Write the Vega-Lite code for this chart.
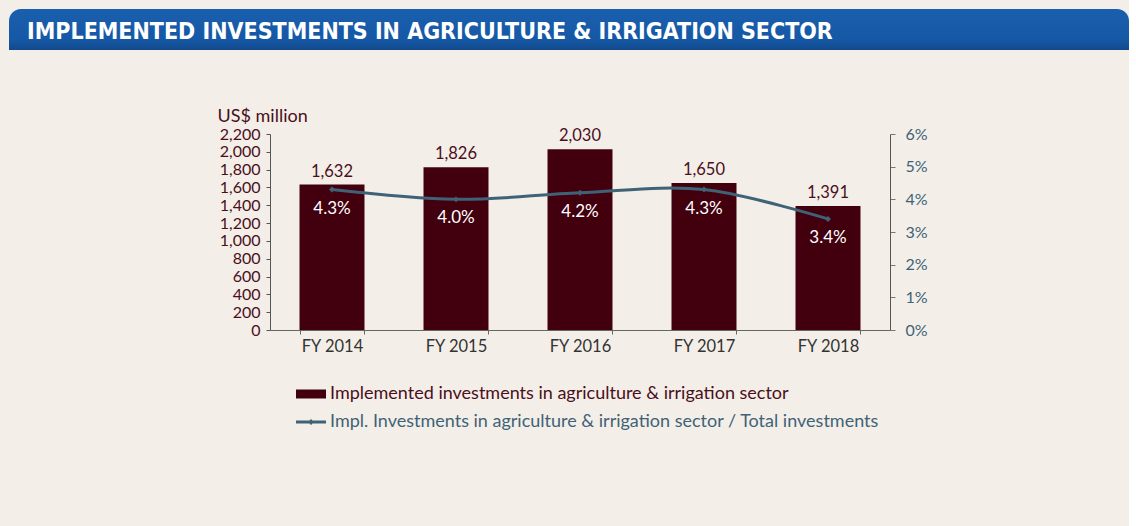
{
  "$schema": "https://vega.github.io/schema/vega-lite/v6.json",
  "background": "#f3efe8",
  "padding": {"left": 9, "top": 9, "right": 0, "bottom": 96},
  "config": {"view": {"stroke": null}, "font": "Lato"},
  "spacing": 57,
  "bounds": "full",
  "vconcat": [
    {
      "width": 620,
      "height": 41,
      "layer": [
        {
          "data": {"values": [{"a": 0, "b": 1}]},
          "mark": {
            "type": "rect",
            "cornerRadiusTopLeft": 12,
            "cornerRadiusTopRight": 12,
            "color": {
              "gradient": "linear",
              "x1": 0, "y1": 0, "x2": 0, "y2": 1,
              "stops": [
                {"offset": 0, "color": "#1a5fae"},
                {"offset": 0.75, "color": "#1558a5"},
                {"offset": 1, "color": "#124a8c"}
              ]
            }
          },
          "encoding": {
            "x": {"field": "a", "type": "quantitative", "scale": {"domain": [0, 1], "range": [-261, 859]}, "axis": null},
            "x2": {"field": "b"},
            "y": {"field": "a", "type": "quantitative", "scale": {"domain": [0, 1]}, "axis": null},
            "y2": {"field": "b"}
          }
        },
        {
          "data": {"values": [{"a": 0, "t": "IMPLEMENTED INVESTMENTS IN AGRICULTURE & IRRIGATION SECTOR"}]},
          "mark": {
            "type": "text",
            "align": "left",
            "baseline": "alphabetic",
            "dx": 18,
            "dy": -11,
            "color": "#ffffff",
            "font": "DejaVu Sans Condensed",
            "fontSize": 23,
            "fontWeight": "bold"
          },
          "encoding": {
            "x": {"field": "a", "type": "quantitative"},
            "y": {"field": "a", "type": "quantitative"},
            "text": {"field": "t"}
          }
        }
      ]
    },
    {
      "width": 620,
      "height": 196,
      "data": {
        "values": [
          {"year": "FY 2014", "amount": 1632, "pct": 0.043},
          {"year": "FY 2015", "amount": 1826, "pct": 0.040},
          {"year": "FY 2016", "amount": 2030, "pct": 0.042},
          {"year": "FY 2017", "amount": 1650, "pct": 0.043},
          {"year": "FY 2018", "amount": 1391, "pct": 0.034}
        ]
      },
      "encoding": {
        "x": {
          "field": "year",
          "type": "nominal",
          "sort": null,
          "scale": {"paddingInner": 0.476, "paddingOuter": 0.238},
          "axis": {
            "title": null,
            "labelAngle": 0,
            "labelFont": "Lato",
            "labelFontSize": 16.5,
            "labelColor": "#333333",
            "labelPadding": 4,
            "tickBand": "extent",
            "tickSize": 4,
            "tickColor": "#666666",
            "domainColor": "#666666",
            "grid": false
          }
        }
      },
      "layer": [
        {
          "encoding": {
            "y": {
              "field": "amount",
              "type": "quantitative",
              "scale": {"domain": [0, 2200], "nice": false},
              "axis": {
                "title": "US$ million",
                "titleAngle": 0,
                "titleAlign": "left",
                "titleBaseline": "alphabetic",
                "titleX": -53,
                "titleY": -13,
                "titleFont": "Lato",
                "titleFontSize": 18,
                "titleFontWeight": "normal",
                "titleColor": "#4b0e1c",
                "values": [0, 200, 400, 600, 800, 1000, 1200, 1400, 1600, 1800, 2000, 2200],
                "format": ",.0f",
                "labelFont": "Lato",
                "labelFontSize": 16,
                "labelColor": "#4b0e1c",
                "labelPadding": 6,
                "labelOverlap": false,
                "labelFlush": false,
                "tickSize": 4,
                "tickColor": "#555555",
                "domainColor": "#555555",
                "grid": false
              }
            }
          },
          "layer": [
            {
              "mark": {"type": "bar"},
              "encoding": {
                "color": {
                  "datum": "Implemented investments in agriculture & irrigation sector",
                  "scale": {
                    "domain": [
                      "Implemented investments in agriculture & irrigation sector",
                      "Impl. Investments in agriculture & irrigation sector / Total investments"
                    ],
                    "range": ["#42000e", "#3f6277"]
                  },
                  "legend": {
                    "orient": "none",
                    "legendX": 26,
                    "legendY": 370,
                    "direction": "vertical",
                    "title": null,
                    "padding": 0,
                    "symbolSize": 900,
                    "labelOffset": 4,
                    "labelFont": "Lato",
                    "labelFontSize": 18,
                    "labelLimit": 900,
                    "rowPadding": 4,
                    "encode": {
                      "symbols": {
                        "update": {
                          "shape": {"signal": "datum.index === 0 ? 'M-1,-0.3H1V0.3H-1Z' : 'M-1,-0.1H1V0.1H-1Z M0,-0.2L0.2,0L0,0.2L-0.2,0Z'"},
                          "fill": {"signal": "datum.index === 0 ? '#42000e' : '#3f6277'"},
                          "stroke": {"value": "transparent"},
                          "strokeWidth": {"value": 0},
                          "opacity": {"value": 1}
                        }
                      },
                      "labels": {
                        "update": {
                          "fill": {"signal": "datum.index === 0 ? '#4b0e1c' : '#3f6277'"}
                        }
                      }
                    }
                  }
                }
              }
            },
            {
              "mark": {"type": "text", "baseline": "alphabetic", "dy": -8, "font": "Lato", "fontSize": 16.5, "color": "#4b0e1c"},
              "encoding": {"text": {"field": "amount", "type": "quantitative", "format": ","}}
            }
          ]
        },
        {
          "encoding": {
            "y": {
              "field": "pct",
              "type": "quantitative",
              "scale": {"domain": [0, 0.06], "nice": false},
              "axis": {
                "orient": "right",
                "title": null,
                "values": [0, 0.01, 0.02, 0.03, 0.04, 0.05, 0.06],
                "format": ".0%",
                "labelFont": "Lato",
                "labelFontSize": 16,
                "labelColor": "#3f6277",
                "labelPadding": 10,
                "labelFlush": false,
                "tickSize": 5,
                "tickColor": "#777777",
                "domainColor": "#555555",
                "grid": false
              }
            }
          },
          "layer": [
            {
              "mark": {
                "type": "line",
                "interpolate": "cardinal",
                "strokeWidth": 3,
                "point": {"filled": true, "shape": "diamond", "size": 35}
              },
              "encoding": {
                "color": {"datum": "Impl. Investments in agriculture & irrigation sector / Total investments"}
              }
            },
            {
              "mark": {"type": "text", "baseline": "alphabetic", "dy": 24, "font": "Lato", "fontSize": 17, "color": "#ffffff"},
              "encoding": {"text": {"field": "pct", "type": "quantitative", "format": ".1%"}}
            }
          ]
        }
      ],
      "resolve": {"scale": {"y": "independent"}}
    }
  ]
}
